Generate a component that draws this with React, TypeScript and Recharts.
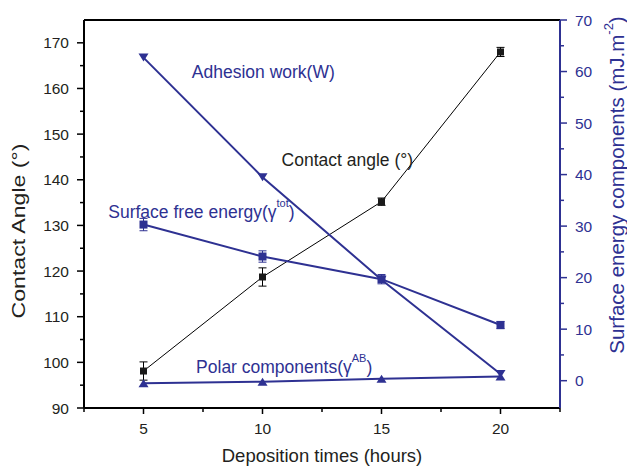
import {
  ComposedChart,
  ErrorBar,
  Line,
  ReferenceDot,
  ReferenceLine,
  XAxis,
  YAxis,
} from "recharts";

// deposition time (hours)
const times = [5, 10, 15, 20];
// left axis, degrees
const contactAngle = [98.1, 118.7, 135.2, 168.0];
const contactAngleErr = [2.0, 2.0, 0.8, 1.0];
// right axis, mJ.m-2
const adhesionWork = [62.7, 39.5, 19.6, 1.3];
const surfaceFreeEnergy = [30.3, 24.1, 19.7, 10.8];
const surfaceFreeEnergyErr = [1.2, 1.1, 0.9, 0.7];
const polarComponents = [-0.5, -0.2, 0.4, 0.8];

const xTicks = [2.5, 5, 7.5, 10, 12.5, 15, 17.5, 20, 22.5];
const leftTicks = [90, 95, 100, 105, 110, 115, 120, 125, 130, 135, 140, 145, 150, 155, 160, 165, 170];
const rightTicks = [0, 5, 10, 15, 20, 25, 30, 35, 40, 45, 50, 55, 60, 65, 70];

const BLUE = "#2e3192";
const INK = "#231f20";
const FONT = "'Liberation Sans', Arial, Helvetica, sans-serif";

const rows = times.map((t, i) => ({
  t,
  ca: contactAngle[i],
  caErr: contactAngleErr[i],
  w: adhesionWork[i],
  sfe: surfaceFreeEnergy[i],
  sfeErr: surfaceFreeEnergyErr[i],
  polar: polarComponents[i],
}));

// annotation anchors, in axis units (x: hours, y: left axis degrees)
const notes = [
  { x: 7.03, y: 163.5, color: BLUE, text: "Adhesion work(W)", sup: "" },
  { x: 10.8, y: 144.4, color: INK, text: "Contact angle (°)", sup: "" },
  { x: 3.52, y: 133.0, color: BLUE, text: "Surface free energy(γ", sup: "tot" },
  { x: 7.21, y: 99.0, color: BLUE, text: "Polar components(γ", sup: "AB" },
];

function XTick({ x, y, payload }: any) {
  const v = payload.value;
  const major = v % 5 === 0;
  return (
    <g>
      <line x1={x} x2={x} y1={y} y2={y + (major ? 6 : 4)} stroke="#000" strokeWidth={1.5} />
      {major && (
        <text x={x} y={y + 20} textAnchor="middle" dominantBaseline="central" fontSize={15.5} fill={INK} fontFamily={FONT}>
          {v}
        </text>
      )}
    </g>
  );
}

function LeftTick({ x, y, payload }: any) {
  const v = payload.value;
  const major = v % 10 === 0;
  return (
    <g>
      <line x1={x} x2={x - (major ? 7 : 4)} y1={y} y2={y} stroke="#000" strokeWidth={1.5} />
      {major && (
        <text x={x - 15} y={y} textAnchor="end" dominantBaseline="central" fontSize={15.5} fill={INK} fontFamily={FONT}>
          {v}
        </text>
      )}
    </g>
  );
}

function RightTick({ x, y, payload }: any) {
  const v = payload.value;
  const major = v % 10 === 0;
  return (
    <g>
      <line x1={x} x2={x + (major ? 7 : 4)} y1={y} y2={y} stroke={BLUE} strokeWidth={1.5} />
      {major && (
        <text x={x + 15} y={y} textAnchor="start" dominantBaseline="central" fontSize={15.5} fill={BLUE} fontFamily={FONT}>
          {v}
        </text>
      )}
    </g>
  );
}

const squareDot = (color: string, size: number) => (p: any) => (
  <rect key={`sq-${color}-${p.index}`} x={p.cx - size / 2} y={p.cy - size / 2} width={size} height={size} fill={color} />
);

const triDot = (color: string, down: boolean) => (p: any) => {
  const { cx, cy } = p;
  const h = 8;
  const w = 10;
  const pts = down
    ? `${cx - w / 2},${cy - h / 2} ${cx + w / 2},${cy - h / 2} ${cx},${cy + h / 2}`
    : `${cx - w / 2},${cy + h / 2} ${cx + w / 2},${cy + h / 2} ${cx},${cy - h / 2}`;
  return <polygon key={`tri-${down}-${p.index}`} points={pts} fill={color} />;
};

function NoteText({ viewBox, note }: any) {
  return (
    <text x={viewBox.x} y={viewBox.y} dominantBaseline="central" fontSize={17.5} fill={note.color} fontFamily={FONT}>
      {note.text}
      {note.sup && (
        <>
          <tspan dy={-9} fontSize={11}>
            {note.sup}
          </tspan>
          <tspan dy={9}>)</tspan>
        </>
      )}
    </text>
  );
}

export default function App() {
  return (
    <div style={{ position: "absolute", left: 0, top: 0, fontFamily: FONT }}>
      <ComposedChart width={627} height={467} data={rows} margin={{ top: 20, right: 0, bottom: 0, left: 0 }}>
        <XAxis
          dataKey="t"
          type="number"
          domain={[2.5, 22.5]}
          ticks={xTicks}
          height={59}
          tickSize={0}
          tickMargin={0}
          tick={<XTick />}
          axisLine={{ stroke: "#000", strokeWidth: 2 }}
          interval={0}
          label={(p: any) => {
            const vb = p.viewBox;
            return (
              <text x={vb.x + vb.width / 2} y={vb.y + 47} textAnchor="middle" dominantBaseline="central" fontSize={18.5} fill={INK} fontFamily={FONT}>
                Deposition times (hours)
              </text>
            );
          }}
        />
        <YAxis
          yAxisId="left"
          type="number"
          domain={[90, 175]}
          ticks={leftTicks}
          width={84}
          tickSize={0}
          tickMargin={0}
          tick={<LeftTick />}
          interval={0}
          axisLine={{ stroke: "#000", strokeWidth: 2 }}
          label={(p: any) => {
            const vb = p.viewBox;
            const cx = vb.x + 18;
            const cy = vb.y + vb.height / 2 + 17;
            return (
              <text x={cx} y={cy} transform={`rotate(-90, ${cx}, ${cy})`} textAnchor="middle" dominantBaseline="central" fontSize={19} textLength={175} lengthAdjust="spacingAndGlyphs" fill={INK} fontFamily={FONT}>
                Contact Angle (°)
              </text>
            );
          }}
        />
        <YAxis
          yAxisId="right"
          orientation="right"
          type="number"
          domain={[-5.3, 70]}
          ticks={rightTicks}
          width={67}
          tickSize={0}
          tickMargin={0}
          tick={<RightTick />}
          interval={0}
          axisLine={{ stroke: BLUE, strokeWidth: 2 }}
          label={(p: any) => {
            const vb = p.viewBox;
            const cx = vb.x + 56;
            const cy = vb.y + vb.height / 2 - 29;
            return (
              <text x={cx} y={cy} transform={`rotate(-90, ${cx}, ${cy})`} textAnchor="middle" dominantBaseline="central" fontSize={20.5} fill={BLUE} fontFamily={FONT}>
                Surface energy components (mJ.m
                <tspan dy={-8} fontSize={13}>
                  -2
                </tspan>
                <tspan dy={8}>)</tspan>
              </text>
            );
          }}
        />
        <ReferenceLine yAxisId="left" y={175} stroke="#000" strokeWidth={2} />

        <Line
          yAxisId="left"
          dataKey="ca"
          stroke="#000"
          strokeWidth={1}
          dot={squareDot("#1a1a1a", 7)}
          activeDot={false}
          isAnimationActive={false}
        >
          <ErrorBar dataKey="caErr" direction="y" width={4} stroke="#000" strokeWidth={1} isAnimationActive={false} />
        </Line>
        <Line
          yAxisId="right"
          dataKey="w"
          stroke={BLUE}
          strokeWidth={2}
          dot={triDot(BLUE, true)}
          activeDot={false}
          isAnimationActive={false}
        />
        <Line
          yAxisId="right"
          dataKey="sfe"
          stroke={BLUE}
          strokeWidth={2}
          dot={squareDot(BLUE, 8)}
          activeDot={false}
          isAnimationActive={false}
        >
          <ErrorBar dataKey="sfeErr" direction="y" width={4} stroke={BLUE} strokeWidth={1} isAnimationActive={false} />
        </Line>
        <Line
          yAxisId="right"
          dataKey="polar"
          stroke={BLUE}
          strokeWidth={2}
          dot={triDot(BLUE, false)}
          activeDot={false}
          isAnimationActive={false}
        />

        {notes.map((n) => (
          <ReferenceDot
            key={n.text}
            yAxisId="left"
            x={n.x}
            y={n.y}
            r={0}
            fill="none"
            stroke="none"
            label={(p: any) => <NoteText viewBox={p.viewBox} note={n} />}
          />
        ))}
      </ComposedChart>
    </div>
  );
}
